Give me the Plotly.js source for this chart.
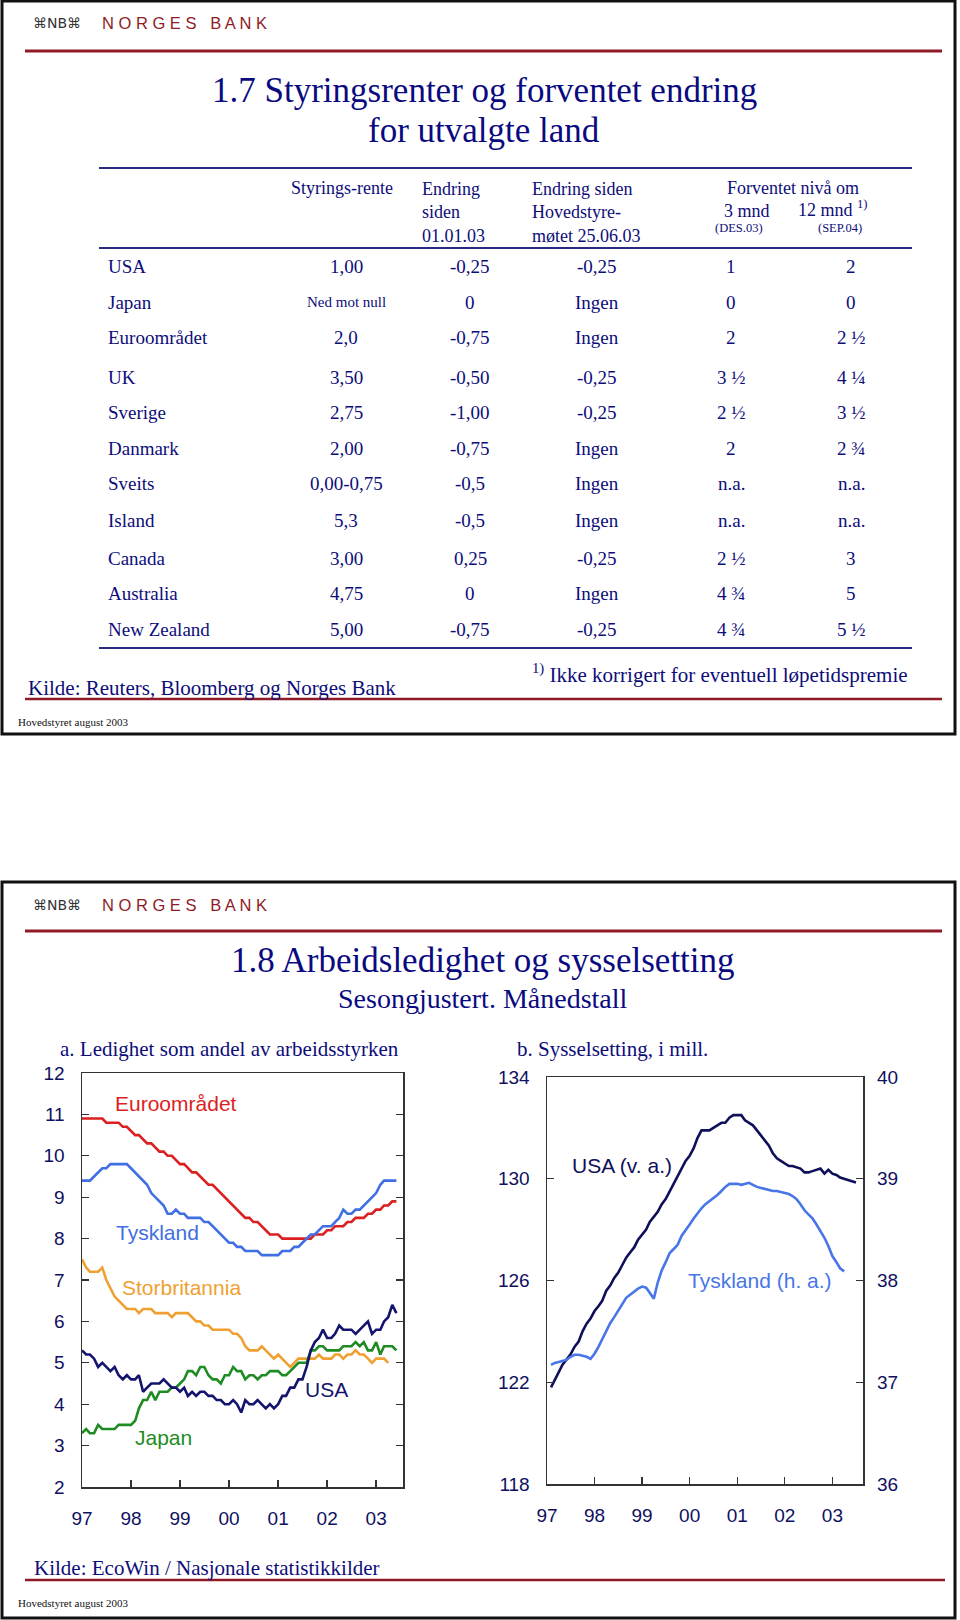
<!DOCTYPE html>
<html><head><meta charset="utf-8">
<script src="https://cdn.plot.ly/plotly-3.0.1.min.js"></script>
<style>html,body{margin:0;padding:0;background:#fff}#chart{width:960px;height:1620px}</style>
</head><body><div id="chart"></div>
<script>
// ---------- DATA: table 1.7 ----------
const countries = ['USA','Japan','Euroområdet','UK','Sverige','Danmark','Sveits','Island','Canada','Australia','New Zealand'];
const policyRate = ['1,00','Ned mot null','2,0','3,50','2,75','2,00','0,00-0,75','5,3','3,00','4,75','5,00'];
const changeSince0101 = ['-0,25','0','-0,75','-0,50','-1,00','-0,75','-0,5','-0,5','0,25','0','-0,75'];
const changeSinceMeeting = ['-0,25','Ingen','Ingen','-0,25','-0,25','Ingen','Ingen','Ingen','-0,25','Ingen','-0,25'];
const expected3m = ['1','0','2','3 ½','2 ½','2','n.a.','n.a.','2 ½','4 ¾','4 ¾'];
const expected12m = ['2','0','2 ½','4 ¼','3 ½','2 ¾','n.a.','n.a.','3','5','5 ½'];

// ---------- DATA: chart 1.8a unemployment (monthly, from Jan 1997) ----------
const unempStart = [1997, 1];
const euroArea = [10.9,10.9,10.9,10.9,10.9,10.9,10.8,10.8,10.8,10.8,10.7,10.7,
 10.6,10.5,10.5,10.4,10.3,10.3,10.2,10.1,10.1,10.0,10.0,9.9,
 9.8,9.8,9.7,9.6,9.6,9.5,9.4,9.3,9.3,9.2,9.1,9.0,
 8.9,8.8,8.7,8.6,8.5,8.5,8.4,8.4,8.3,8.2,8.1,8.1,
 8.1,8.0,8.0,8.0,8.0,8.0,8.0,8.0,8.0,8.1,8.1,8.1,
 8.2,8.2,8.3,8.3,8.3,8.4,8.4,8.5,8.5,8.5,8.6,8.6,
 8.7,8.7,8.8,8.8,8.9,8.9];
const germany = [9.4,9.4,9.4,9.5,9.6,9.7,9.7,9.8,9.8,9.8,9.8,9.8,
 9.7,9.6,9.5,9.4,9.3,9.1,9.0,8.9,8.8,8.6,8.6,8.7,
 8.6,8.6,8.5,8.5,8.5,8.5,8.4,8.4,8.3,8.2,8.1,8.0,
 7.9,7.9,7.8,7.8,7.7,7.7,7.7,7.7,7.6,7.6,7.6,7.6,
 7.6,7.7,7.7,7.7,7.8,7.8,7.9,8.0,8.1,8.1,8.2,8.3,
 8.3,8.3,8.4,8.5,8.7,8.6,8.6,8.7,8.7,8.8,8.9,9.0,
 9.1,9.3,9.4,9.4,9.4,9.4];
const uk = [7.5,7.3,7.2,7.2,7.2,7.3,7.0,6.8,6.6,6.5,6.4,6.3,
 6.3,6.3,6.2,6.3,6.3,6.3,6.2,6.2,6.2,6.2,6.1,6.2,
 6.2,6.2,6.2,6.1,6.0,6.0,5.9,5.9,5.8,5.8,5.8,5.8,
 5.8,5.7,5.7,5.6,5.4,5.3,5.3,5.3,5.4,5.3,5.2,5.1,
 5.2,5.1,5.0,4.9,5.0,5.1,5.1,5.1,5.1,5.1,5.2,5.1,
 5.1,5.1,5.2,5.2,5.1,5.2,5.2,5.3,5.2,5.2,5.1,5.0,
 5.1,5.1,5.1,5.0];
const usa = [5.3,5.2,5.2,5.1,4.9,5.0,4.9,4.8,4.9,4.7,4.6,4.7,
 4.6,4.6,4.7,4.3,4.4,4.5,4.5,4.5,4.6,4.5,4.4,4.4,
 4.3,4.4,4.2,4.3,4.2,4.3,4.3,4.2,4.2,4.1,4.1,4.0,
 4.0,4.1,4.0,3.8,4.1,4.0,4.0,4.1,4.0,3.9,4.0,3.9,
 4.0,4.2,4.2,4.4,4.4,4.6,4.6,4.9,5.3,5.5,5.6,5.8,
 5.6,5.6,5.7,5.9,5.8,5.8,5.8,5.7,5.8,5.9,6.0,5.7,
 5.8,5.8,6.0,6.1,6.4,6.2];
const japan = [3.3,3.4,3.3,3.3,3.5,3.4,3.4,3.4,3.4,3.5,3.5,3.5,
 3.5,3.6,3.9,4.1,4.1,4.3,4.1,4.3,4.3,4.3,4.4,4.4,
 4.5,4.6,4.8,4.8,4.7,4.9,4.9,4.7,4.6,4.6,4.5,4.7,
 4.7,4.9,4.8,4.8,4.6,4.7,4.7,4.6,4.7,4.7,4.8,4.8,
 4.8,4.7,4.7,4.8,4.9,5.0,5.0,5.0,5.3,5.3,5.4,5.4,
 5.3,5.3,5.3,5.3,5.4,5.4,5.4,5.5,5.4,5.5,5.3,5.3,
 5.5,5.2,5.4,5.4,5.4,5.3];

// ---------- DATA: chart 1.8b employment, millions (monthly, from Feb 1997) ----------
const emplStart = [1997, 2];
const emplUSA = [121.8,122.1,122.4,122.7,122.9,123.1,123.4,123.6,124.0,124.3,124.5,
 124.8,125.0,125.2,125.6,125.8,126.1,126.3,126.6,126.9,127.1,127.3,127.6,
 127.8,128.0,128.3,128.5,128.7,129.0,129.2,129.5,129.8,130.1,130.4,130.7,
 130.9,131.2,131.6,131.9,131.9,131.9,132.0,132.1,132.2,132.2,132.4,132.5,
 132.5,132.5,132.3,132.2,132.1,131.9,131.7,131.5,131.3,131.0,130.8,130.7,
 130.6,130.5,130.5,130.45,130.4,130.25,130.25,130.3,130.35,130.4,130.2,130.35,
 130.2,130.15,130.05,130.0,129.95,129.9,129.85];
const emplGermany = [37.17,37.19,37.20,37.21,37.22,37.25,37.27,37.27,37.26,37.25,37.23,
 37.28,37.35,37.42,37.51,37.58,37.64,37.70,37.76,37.83,37.86,37.89,37.92,
 37.94,37.93,37.88,37.82,37.98,38.10,38.18,38.27,38.31,38.35,38.44,38.50,
 38.55,38.61,38.66,38.71,38.75,38.78,38.81,38.84,38.88,38.92,38.95,38.95,
 38.95,38.94,38.95,38.96,38.94,38.92,38.91,38.90,38.89,38.88,38.88,38.87,
 38.86,38.85,38.83,38.80,38.75,38.69,38.65,38.61,38.55,38.49,38.42,38.34,
 38.24,38.18,38.12,38.09];

const yearTickVals = ['1997-01-01','1998-01-01','1999-01-01','2000-01-01','2001-01-01','2002-01-01','2003-01-01'];
const yearTickText = ['97','98','99','00','01','02','03'];

// ---------- helpers ----------
function months(start, n) {
  const out = [];
  for (let i = 0; i < n; i++) {
    const t = start[0] * 12 + (start[1] - 1) + i;
    out.push(Math.floor(t / 12) + '-' + String(t % 12 + 1).padStart(2, '0') + '-01');
  }
  return out;
}
const W = 960, H = 1620;
const px = x => x / W, py = y => 1 - y / H;
const SERIF = 'Liberation Serif, Times New Roman, serif';
const SANS = 'Liberation Sans, Arial, sans-serif';
const NAVY = '#0d0d7a';
const AXNAVY = '#101060';
const DARKRED = '#8e1b27';

// ---------- traces ----------
const lw = 2.6;
const traces = [
  {x: months(unempStart, euroArea.length), y: euroArea, xaxis:'x', yaxis:'y', mode:'lines', line:{color:'#dc1f1f', width:lw}, name:'Euroområdet'},
  {x: months(unempStart, germany.length), y: germany, xaxis:'x', yaxis:'y', mode:'lines', line:{color:'#3f6fe2', width:lw}, name:'Tyskland'},
  {x: months(unempStart, uk.length), y: uk, xaxis:'x', yaxis:'y', mode:'lines', line:{color:'#f0a030', width:lw}, name:'Storbritannia'},
  {x: months(unempStart, japan.length), y: japan, xaxis:'x', yaxis:'y', mode:'lines', line:{color:'#1e8c22', width:lw}, name:'Japan'},
  {x: months(unempStart, usa.length), y: usa, xaxis:'x', yaxis:'y', mode:'lines', line:{color:'#14146e', width:lw}, name:'USA'},
  {x: months(emplStart, emplGermany.length), y: emplGermany, xaxis:'x2', yaxis:'y4', mode:'lines', line:{color:'#4876e6', width:lw}, name:'Tyskland (h. a.)'},
  {x: months(emplStart, emplUSA.length), y: emplUSA, xaxis:'x2', yaxis:'y3', mode:'lines', line:{color:'#0f0f5a', width:lw}, name:'USA (v. a.)'}
];

// ---------- axes ----------
const tickFont = {family: SANS, size: 19, color: AXNAVY};
const common = {showgrid:false, zeroline:false, fixedrange:true, tickfont:tickFont};
const xCommon = Object.assign({}, common, {type:'date', tickmode:'array', tickvals:yearTickVals, ticktext:yearTickText,
  ticks:'inside', ticklen:7, tickcolor:'#333', tickwidth:1.3, showline:true, linecolor:'#333', linewidth:1.5, mirror:true, ticklabelstandoff:14});
const yLeft = Object.assign({}, common, {ticks:'inside', ticklen:7, tickcolor:'#333', tickwidth:1.3, showline:true, linecolor:'#333', linewidth:1.5, mirror:'ticks', ticklabelstandoff:12});
const yRight = Object.assign({}, common, {ticks:'', showline:false, side:'right', ticklabelstandoff:13});

const layout = {
  width: W, height: H, margin:{l:0,r:0,t:0,b:0}, paper_bgcolor:'#fff', plot_bgcolor:'#fff', showlegend:false,
  xaxis: Object.assign({}, xCommon, {domain:[px(82), px(403)], anchor:'y', range:['1997-01-01','2003-07-20']}),
  yaxis: Object.assign({}, yLeft, {domain:[py(1487), py(1073)], anchor:'x', range:[2,12], tick0:2, dtick:1}),
  yaxis2: Object.assign({}, yRight, {overlaying:'y', anchor:'x', range:[2,12], tick0:2, dtick:1}),
  xaxis2: Object.assign({}, xCommon, {domain:[px(547), px(863)], anchor:'y3', range:['1997-01-01','2003-08-24']}),
  yaxis3: Object.assign({}, yLeft, {domain:[py(1484), py(1077)], anchor:'x2', range:[118,134], tick0:118, dtick:4}),
  yaxis4: Object.assign({}, yRight, {overlaying:'y3', anchor:'x2', range:[36,40], tick0:36, dtick:1}),
  shapes: [], annotations: []
};

function rect(x0,y0,x1,y1,color,width){layout.shapes.push({type:'rect',xref:'paper',yref:'paper',x0:px(x0),x1:px(x1),y0:py(y1),y1:py(y0),line:{color:color,width:width},fillcolor:'rgba(0,0,0,0)'});}
function hline(x0,x1,y,color,width){layout.shapes.push({type:'line',xref:'paper',yref:'paper',x0:px(x0),x1:px(x1),y0:py(y),y1:py(y),line:{color:color,width:width}});}
function txt(text,x,y,opt){
  opt = opt || {};
  layout.annotations.push({text:text, xref:'paper', yref:'paper', x:px(x), y:py(y), showarrow:false,
    xanchor:opt.xa||'center', yanchor:opt.ya||'middle', align:opt.align||'left',
    font:{family:opt.family||SERIF, size:opt.size||19, color:opt.color||NAVY}});
}

// ---------- slide frames ----------
rect(2,1,955,734,'#111',3);
rect(2,882,955,1618,'#111',3);

// ---------- logos and rules ----------
[23, 905].forEach(function(y){
  txt('⌘NB⌘', 31, y, {xa:'left', family:'DejaVu Sans, sans-serif', size:14, color:'#333'});
  txt('N O R G E S   B A N K', 100, y, {xa:'left', family:SANS, size:16.5, color:DARKRED});
});
hline(25, 942, 51, DARKRED, 3);
hline(25, 942, 931, DARKRED, 3);

// ---------- slide 1: titles ----------
txt('1.7 Styringsrenter og forventet endring', 484, 90, {size:35, color:'#0a0a80'});
txt('for utvalgte land', 484, 131, {size:35, color:'#0a0a80'});

// table rules
hline(99, 912, 168, '#2a2a80', 2);
hline(99, 912, 248, '#2a2a80', 2);
hline(99, 912, 648, '#2a2a80', 2);

// table header
txt('Styrings-rente', 289, 188, {xa:'left', size:18});
txt('Endring<br>siden<br>01.01.03', 420, 177, {xa:'left', ya:'top', size:18});
txt('Endring siden<br>Hovedstyre-<br>møtet 25.06.03', 530, 177, {xa:'left', ya:'top', size:18});
txt('Forventet nivå om', 725, 188, {xa:'left', size:18});
txt('3 mnd', 722, 211, {xa:'left', size:18});
txt('12 mnd <sup>1)</sup>', 796, 209, {xa:'left', size:18});
txt('(DES.03)', 739, 228, {size:12.5});
txt('(SEP.04)', 840, 228, {size:12.5});

// table rows
const rowY = [267,302,338,377,413,448,484,520,558,593,629];
const colX = [346, 470, 597, 731, 851];
countries.forEach(function(c, i){
  txt(c, 106, rowY[i], {xa:'left', size:19});
  const cells = [policyRate[i], changeSince0101[i], changeSinceMeeting[i], expected3m[i], expected12m[i]];
  cells.forEach(function(v, j){
    txt(v, colX[j], rowY[i], {size: (v.length > 10 ? 15 : 19)});
  });
});

// footnote and source
txt('<sup>1)</sup> Ikke korrigert for eventuell løpetidspremie', 530, 673, {xa:'left', size:21});
txt('Kilde: Reuters, Bloomberg og Norges Bank', 26, 688, {xa:'left', size:21});
hline(25, 942, 699, DARKRED, 2.5);
txt('Hovedstyret august 2003', 16, 722, {xa:'left', size:11, color:'#111'});

// ---------- slide 2 ----------
txt('1.8 Arbeidsledighet og sysselsetting', 483, 960, {size:35, color:'#0a0a80'});
txt('Sesongjustert. Månedstall', 483, 998, {size:28, color:'#0a0a80'});
txt('a. Ledighet som andel av arbeidsstyrken', 58, 1049, {xa:'left', size:21});
txt('b. Sysselsetting, i mill.', 515, 1049, {xa:'left', size:21});

// series labels
txt('Euroområdet', 176, 1103, {family:SANS, size:21, color:'#dc1f1f'});
txt('Tyskland', 157, 1232, {family:SANS, size:21, color:'#3f6fe2'});
txt('Storbritannia', 181, 1287, {family:SANS, size:21, color:'#f0a030'});
txt('USA', 326, 1389, {family:SANS, size:21, color:'#14146e'});
txt('Japan', 163, 1437, {family:SANS, size:21, color:'#1e8c22'});
txt('USA (v. a.)', 622, 1165, {family:SANS, size:21, color:'#0f0f5a'});
txt('Tyskland (h. a.)', 760, 1280, {family:SANS, size:21, color:'#4876e6'});

txt('Kilde: EcoWin / Nasjonale statistikkilder', 32, 1568, {xa:'left', size:21});
hline(25, 945, 1580, DARKRED, 2.5);
txt('Hovedstyret august 2003', 16, 1603, {xa:'left', size:11, color:'#111'});

Plotly.newPlot('chart', traces, layout, {staticPlot:true, displayModeBar:false});
</script></body></html>
